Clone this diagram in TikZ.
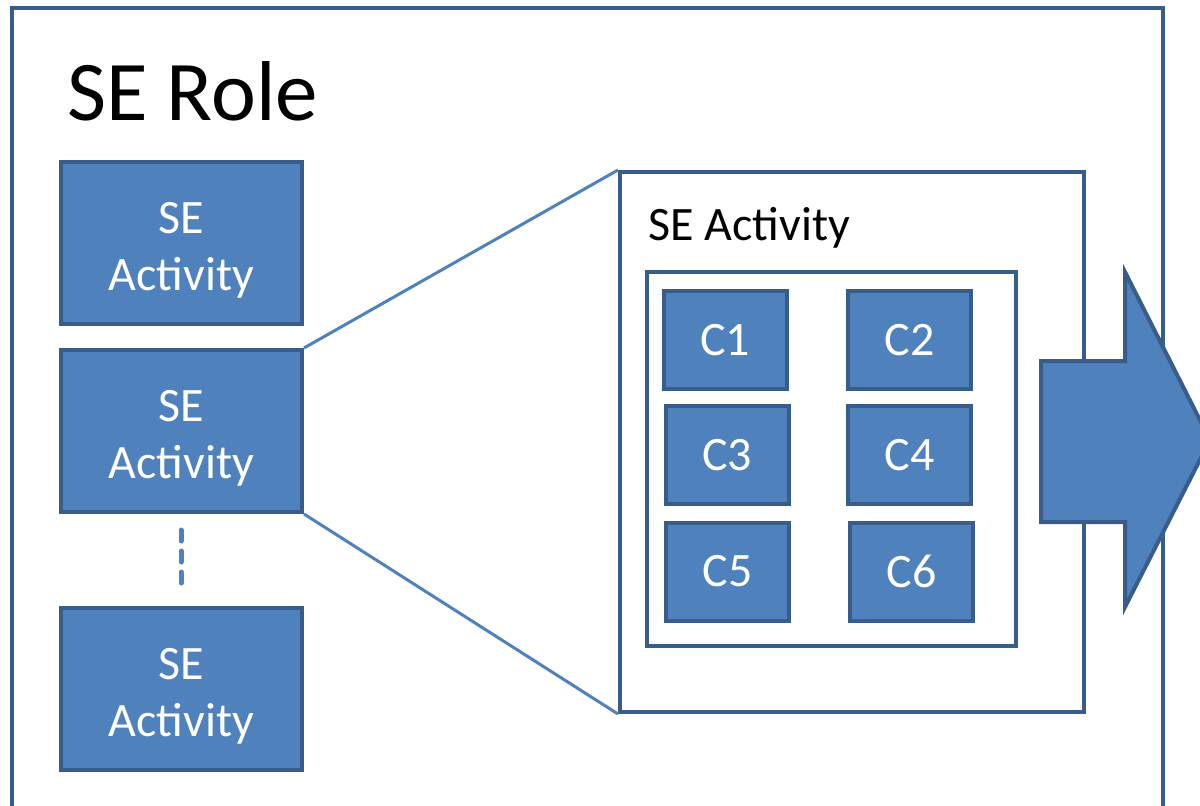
\documentclass[tikz,border=0pt]{standalone}
\usepackage{fontspec}
\setmainfont{Carlito}
\definecolor{boxfill}{HTML}{4F81BD}
\definecolor{boxline}{HTML}{385D8A}
\newcommand{\actlabel}{\parbox{200pt}{\centering\vspace*{14pt}SE\\Activity}}
\begin{document}
\begin{tikzpicture}[x=1pt,y=-1pt,
  actbox/.style={draw=boxline, fill=boxfill, line width=4pt, rectangle, inner sep=0pt,
    text=white, align=center, font=\fontsize{48}{57}\selectfont},
  cbox/.style={actbox, minimum width=123pt, minimum height=98pt},
  frame/.style={draw=boxline, fill=white, inner sep=0pt, rectangle},
  zoomline/.style={draw=boxfill, line width=3pt}
]
\useasboundingbox (0,0) rectangle (1200,806);
\clip (0,0) rectangle (1200,806);
\fill[white] (0,0) rectangle (1200,806);
% outer frame
\draw[boxline, line width=3.5pt] (12,830) -- (12,8) -- (1163,8) -- (1163,830);
\node[anchor=base west, inner sep=0pt, font=\fontsize{85}{96}\selectfont] (role) at (67,120) {SE Role};
% left activities
\node[actbox, minimum width=241pt, minimum height=162pt] (a1) at (181.5,243) {\actlabel};
\node[actbox, minimum width=241pt, minimum height=162pt] (a2) at (181.5,431) {\actlabel};
\node[actbox, minimum width=241pt, minimum height=162pt] (a3) at (181.5,689) {\actlabel};
\coordinate (d1) at (181,530);
\coordinate (d2) at (181,584);
\draw[boxfill, line width=5pt, line cap=round, dash pattern=on 11pt off 10pt] (d1) -- (d2);
% middle frame
\node[frame, line width=4pt, minimum width=464pt, minimum height=540pt] (mid) at (852,442) {};
\draw[zoomline] (a2.north east) -- (mid.north west);
\draw[zoomline] (a2.south east) -- (mid.south west);
\node[anchor=base west, inner sep=0pt, font=\fontsize{48}{54}\selectfont] (midlabel) at (648,240) {SE Activity};
\node[frame, line width=3.5pt, minimum width=369pt, minimum height=374pt] (inner) at (831.5,459) {};
% components
\node[cbox] (c1) at (725,340) {C1};
\node[cbox] (c2) at (909.5,340) {C2};
\node[cbox] (c3) at (727,455) {C3};
\node[cbox] (c4) at (909.5,455) {C4};
\node[cbox] (c5) at (727.5,571.5) {C5};
\node[cbox] (c6) at (911.5,571.5) {C6};
% output arrow
\draw[boxline, fill=boxfill, line width=4pt, line join=miter]
  (1041,361) -- (1125,361) -- (1125,272) -- (1210,440) -- (1125,607) -- (1125,522) -- (1041,522) -- cycle;
\end{tikzpicture}
\end{document}
